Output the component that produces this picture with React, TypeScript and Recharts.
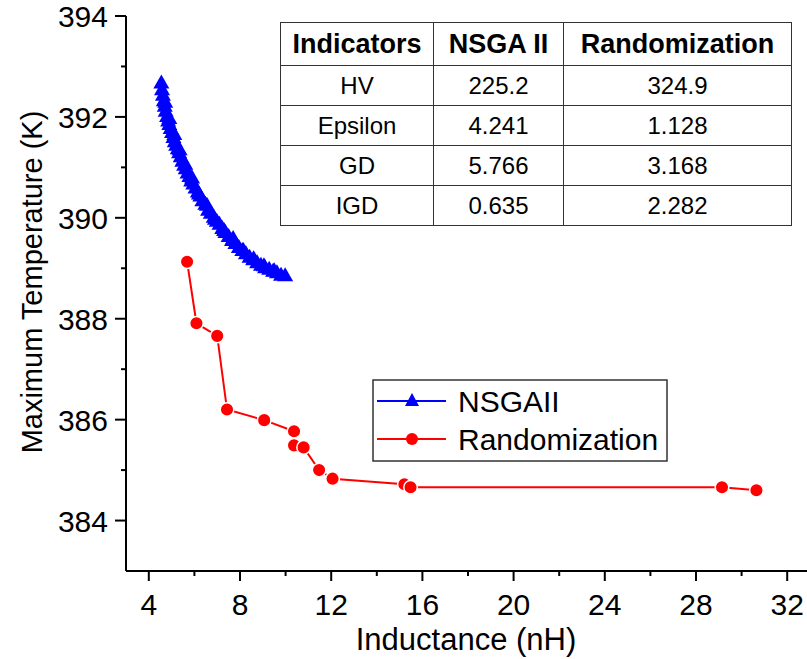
import React from 'react';
import { ScatterChart, Scatter, XAxis, YAxis, Legend } from 'recharts';

// Pareto fronts: inductance (nH) vs max temperature (K)
const nsgaX = [
  4.55, 4.58, 4.62, 4.66, 4.7, 4.74, 4.8, 4.85, 4.9, 4.96, 5.02, 5.08, 5.14,
  5.2, 5.27, 5.33, 5.4, 5.47, 5.55, 5.62, 5.7, 5.78, 5.86, 5.95, 6.05, 6.15,
  6.26, 6.35, 6.48, 6.6, 6.72, 6.85, 6.98, 7.1, 7.22, 7.36, 7.5, 7.65, 7.8,
  7.95, 8.1, 8.26, 8.42, 8.58, 8.75, 8.92, 9.1, 9.28, 9.45, 9.62, 9.8, 9.98,
];
const nsgaY = [
  392.68, 392.55, 392.44, 392.33, 392.22, 392.12, 392.02, 391.93, 391.86,
  391.78, 391.7, 391.6, 391.52, 391.45, 391.38, 391.3, 391.22, 391.13, 391.05,
  390.98, 390.9, 390.83, 390.74, 390.68, 390.6, 390.52, 390.44, 390.35, 390.28,
  390.16, 390.1, 390.02, 389.94, 389.88, 389.8, 389.72, 389.64, 389.56, 389.5,
  389.42, 389.36, 389.3, 389.23, 389.18, 389.12, 389.07, 389.02, 388.99,
  388.95, 388.92, 388.87, 388.86,
];
// points sitting just off the main curve (the ragged edge of the band)
const nsgaEdgeX = [4.72, 4.9, 5.12, 5.35, 5.6, 5.9, 6.2, 6.55, 6.9, 7.3, 7.7, 8.15, 8.6, 9.05, 9.5];
const nsgaEdgeY = [392.3, 391.98, 391.66, 391.36, 391.07, 390.8, 390.48, 390.26, 389.98, 389.76, 389.6, 389.36, 389.2, 389.06, 388.96];

const randX = [
  5.68, 6.09, 7.0, 7.43, 9.06, 10.37, 10.37, 10.79, 11.47, 12.06, 15.21, 15.48,
  29.14, 30.65,
];
const randY = [
  389.13, 387.91, 387.66, 386.2, 385.99, 385.77, 385.49, 385.45, 385.0, 384.83,
  384.72, 384.66, 384.66, 384.6,
];

const xTicks = [4, 6, 8, 10, 12, 14, 16, 18, 20, 22, 24, 26, 28, 30, 32];
const yTicks = [384, 385, 386, 387, 388, 389, 390, 391, 392, 393, 394];

const indicators = ['HV', 'Epsilon', 'GD', 'IGD'];
const nsgaScores = ['225.2', '4.241', '5.766', '0.635'];
const randScores = ['324.9', '1.128', '3.168', '2.282'];

const nsgaData = nsgaX.map((x, i) => ({ x, y: nsgaY[i] }));
const nsgaEdge = nsgaEdgeX.map((x, i) => ({ x, y: nsgaEdgeY[i] }));
const randData = randX.map((x, i) => ({ x, y: randY[i] }));

const FONT = "'Liberation Sans', Arial, sans-serif";
const BLUE = '#0000FF';
const RED = '#FF0000';

const XTick = (props: any) => {
  const { x, y, payload } = props;
  const major = payload.value % 4 === 0;
  return (
    <g>
      <line x1={x} x2={x} y1={y} y2={y + (major ? 10 : 5)} stroke="#000" strokeWidth={2} />
      {major && (
        <text x={x} y={y + 44} textAnchor="middle" fontSize={30} fontFamily={FONT} fill="#000">
          {payload.value}
        </text>
      )}
    </g>
  );
};

const YTick = (props: any) => {
  const { x, y, payload } = props;
  const major = payload.value % 2 === 0;
  return (
    <g>
      <line x1={x - (major ? 11 : 5)} x2={x} y1={y} y2={y} stroke="#000" strokeWidth={2} />
      {major && (
        <text x={x - 18} y={y + 11} textAnchor="end" fontSize={30} fontFamily={FONT} fill="#000">
          {payload.value}
        </text>
      )}
    </g>
  );
};

const Triangle = (props: any) => {
  const { cx, cy } = props;
  return <polygon points={`${cx},${cy - 8} ${cx - 8},${cy + 6} ${cx + 8},${cy + 6}`} fill={BLUE} />;
};

const Dot = (props: any) => {
  const { cx, cy } = props;
  return <circle cx={cx} cy={cy} r={6.8} fill={RED} stroke="#fff" strokeWidth={1.5} />;
};

const LegendBox = (props: any) => {
  const items = (props.payload || []).filter((p: any) => p.value !== 'edge');
  return (
    <svg width={296} height={83} style={{ display: 'block' }}>
      <rect x={1} y={1} width={294} height={81} fill="#fff" stroke="#333" strokeWidth={1.5} />
      {items.map((item: any, i: number) => {
        const cy = 22 + i * 38;
        const isBlue = item.value === 'NSGAII';
        const color = isBlue ? BLUE : RED;
        return (
          <g key={item.value}>
            <line x1={5} x2={74} y1={cy} y2={cy} stroke={color} strokeWidth={2} />
            {isBlue ? (
              <polygon points={`40,${cy - 8} 33,${cy + 5} 47,${cy + 5}`} fill={color} />
            ) : (
              <circle cx={40} cy={cy} r={6} fill={color} />
            )}
            <text x={86} y={cy + 11} fontSize={30} fontFamily={FONT} fill="#000">
              {item.value}
            </text>
          </g>
        );
      })}
    </svg>
  );
};

const cellBorder = '1.5px solid #333';

export default function App() {
  return (
    <div
      style={{
        position: 'absolute',
        left: 0,
        top: 0,
        width: 807,
        height: 659,
        overflow: 'hidden',
        background: '#fff',
        fontFamily: FONT,
      }}
    >
      <ScatterChart width={830} height={659} margin={{ top: 16, right: 20, bottom: 0, left: 0 }}>
        <XAxis
          type="number"
          dataKey="x"
          domain={[3, 33]}
          ticks={xTicks}
          interval={0}
          tickSize={0}
          tickMargin={0}
          tickLine={false}
          tick={<XTick />}
          axisLine={{ stroke: '#000', strokeWidth: 2 }}
          height={88}
          allowDataOverflow
        />
        <YAxis
          type="number"
          dataKey="y"
          domain={[383, 394]}
          ticks={yTicks}
          interval={0}
          tickSize={0}
          tickMargin={0}
          tickLine={false}
          tick={<YTick />}
          axisLine={{ stroke: '#000', strokeWidth: 2 }}
          width={126}
          allowDataOverflow
        />
        <Legend
          layout="horizontal"
          verticalAlign="middle"
          align="center"
          content={<LegendBox />}
          wrapperStyle={{ position: 'absolute', left: 372, top: 379, width: 296, height: 83 }}
        />
        <Scatter
          name="NSGAII"
          data={nsgaData}
          fill={BLUE}
          line={{ stroke: BLUE, strokeWidth: 2 }}
          shape={<Triangle />}
          isAnimationActive={false}
        />
        <Scatter
          name="edge"
          legendType="none"
          data={nsgaEdge}
          fill={BLUE}
          shape={<Triangle />}
          isAnimationActive={false}
        />
        <Scatter
          name="Randomization"
          data={randData}
          fill={RED}
          line={{ stroke: RED, strokeWidth: 2 }}
          shape={<Dot />}
          isAnimationActive={false}
        />
        <text
          transform="translate(466, 650)"
          textAnchor="middle"
          fontSize={31}
          fontFamily={FONT}
          fill="#000"
        >
          Inductance (nH)
        </text>
        <text
          transform="translate(42, 282) rotate(-90)"
          textAnchor="middle"
          fontSize={29}
          fontFamily={FONT}
          fill="#000"
        >
          Maximum Temperature (K)
        </text>
      </ScatterChart>

      <table
        style={{
          position: 'absolute',
          left: 280,
          top: 22,
          width: 511,
          borderCollapse: 'collapse',
          fontFamily: FONT,
          color: '#000',
          background: '#fff',
          tableLayout: 'fixed',
        }}
      >
        <colgroup>
          <col style={{ width: 153 }} />
          <col style={{ width: 130 }} />
          <col style={{ width: 228 }} />
        </colgroup>
        <thead>
          <tr style={{ height: 43 }}>
            {['Indicators', 'NSGA II', 'Randomization'].map((h) => (
              <th
                key={h}
                style={{ border: cellBorder, fontSize: 27, fontWeight: 'bold', padding: 0, textAlign: 'center' }}
              >
                {h}
              </th>
            ))}
          </tr>
        </thead>
        <tbody>
          {indicators.map((name, i) => (
            <tr key={name} style={{ height: 40 }}>
              {[name, nsgaScores[i], randScores[i]].map((v, j) => (
                <td key={j} style={{ border: cellBorder, fontSize: 24, padding: 0, textAlign: 'center' }}>
                  {v}
                </td>
              ))}
            </tr>
          ))}
        </tbody>
      </table>
    </div>
  );
}
